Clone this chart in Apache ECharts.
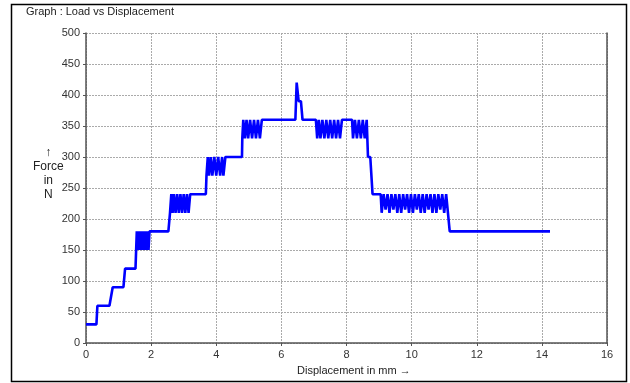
<!DOCTYPE html>
<html>
<head>
<meta charset="utf-8">
<style>
html,body{margin:0;padding:0;background:#fff;}
#chart{width:630px;height:383px;}
</style>
<script src="https://cdn.jsdelivr.net/npm/echarts@6/dist/echarts.min.js"></script>
</head>
<body>
<div id="chart"></div>
<script>
// Data
var titleText = "Graph : Load vs Displacement";
var xAxisLabel = "Displacement in mm \u2192";
var yAxisLabel = "\u2191\nForce\nin\nN";
var xTicks = [0, 2, 4, 6, 8, 10, 12, 14, 16];
var yTicks = [0, 50, 100, 150, 200, 250, 300, 350, 400, 450, 500];

var displacement = [
  0, 0.32, 0.35, 0.72, 0.82, 1.15, 1.2, 1.52,
  1.56, 1.6, 1.64, 1.68, 1.72, 1.76, 1.8, 1.84, 1.88, 1.92, 1.95, 2.53,
  2.58, 2.62, 2.66, 2.7, 2.75, 2.8, 2.85, 2.9, 2.95, 3.0, 3.05, 3.1, 3.15, 3.2, 3.68,
  3.7, 3.74, 3.78, 3.83, 3.88, 3.94, 4.0, 4.06, 4.12, 4.18, 4.22, 4.28, 4.79,
  4.8, 4.83, 4.88, 4.93, 4.98, 5.04, 5.1, 5.16, 5.22, 5.28, 5.34, 5.4, 5.45,
  6.43, 6.47, 6.53, 6.6, 6.65, 7.06,
  7.1, 7.15, 7.2, 7.26, 7.32, 7.38, 7.44, 7.5, 7.56, 7.62, 7.68, 7.74, 7.8, 7.86, 8.17,
  8.2, 8.26, 8.32, 8.38, 8.44, 8.5, 8.56, 8.62, 8.66, 8.73, 8.8, 9.05,
  9.08, 9.14, 9.2, 9.26, 9.32, 9.38, 9.44, 9.5, 9.56, 9.62, 9.68, 9.74, 9.8, 9.86, 9.92, 9.98,
  10.04, 10.1, 10.16, 10.22, 10.28, 10.34, 10.4, 10.46, 10.52, 10.58, 10.64, 10.7, 10.76, 10.82,
  10.88, 10.94, 11.0, 11.06, 11.17, 14.25
];
var force = [
  30, 30, 60, 60, 90, 90, 120, 120,
  180, 150, 180, 150, 180, 150, 180, 150, 180, 150, 180, 180,
  210, 240, 210, 240, 210, 240, 210, 240, 210, 240, 210, 240, 210, 240, 240,
  270, 300, 270, 300, 270, 300, 270, 300, 270, 300, 270, 300, 300,
  330, 360, 330, 360, 330, 360, 330, 360, 330, 360, 330, 360, 360,
  360, 420, 390, 390, 360, 360,
  330, 360, 330, 360, 330, 360, 330, 360, 330, 360, 330, 360, 330, 360, 360,
  330, 360, 330, 360, 330, 360, 330, 360, 300, 300, 240, 240,
  210, 240, 215, 240, 210, 240, 215, 240, 210, 240, 210, 240, 215, 240, 210, 240,
  210, 240, 215, 240, 210, 240, 210, 240, 215, 240, 210, 240, 210, 240,
  215, 240, 210, 240, 180, 180
];

var seriesData = displacement.map(function (x, i) { return [x, force[i]]; });

var chart = echarts.init(document.getElementById('chart'), null, {renderer: 'canvas'});
var font = 'Liberation Sans, Arial, sans-serif';
var option = {
  animation: false,
  backgroundColor: '#ffffff',
  grid: {left: 86, right: 23, top: 33, bottom: 40, containLabel: false},
  graphic: [
    {type: 'rect', shape: {x: 11.5, y: 4.5, width: 615, height: 377},
     style: {fill: 'none', stroke: '#000', lineWidth: 1.5}, silent: true},
    {type: 'text', left: 26, top: 6,
     style: {text: titleText, font: '11px ' + font, fill: '#222'}},
    {type: 'text', left: 33, top: 146,
     style: {text: yAxisLabel, font: '12px ' + font, fill: '#222', textAlign: 'center', lineHeight: 14}},
    {type: 'text', left: 297, top: 365,
     style: {text: xAxisLabel, font: '11px ' + font, fill: '#222'}}
  ],
  xAxis: {
    type: 'value', min: xTicks[0], max: xTicks[xTicks.length - 1], interval: 2,
    axisLine: {show: true, onZero: false, lineStyle: {color: '#555', width: 1.5}},
    axisTick: {show: true, length: 3, lineStyle: {color: '#555'}},
    axisLabel: {margin: 6, fontSize: 11, fontFamily: font, color: '#333'},
    splitLine: {show: true, lineStyle: {type: [2, 1], color: '#aaa', width: 1}}
  },
  yAxis: [{
    type: 'value', min: yTicks[0], max: yTicks[yTicks.length - 1], interval: 50,
    axisLine: {show: true, lineStyle: {color: '#555', width: 1.5}},
    axisTick: {show: true, length: 3, lineStyle: {color: '#555'}},
    axisLabel: {margin: 6, fontSize: 11, fontFamily: font, color: '#333'},
    splitLine: {show: true, lineStyle: {type: [2, 1], color: '#aaa', width: 1}}
  }, {
    type: 'value', position: 'right', min: 0, max: 500, interval: 50,
    axisLine: {show: true, lineStyle: {color: '#555', width: 1.5}},
    axisTick: {show: false}, axisLabel: {show: false}, splitLine: {show: false}
  }],
  series: [{
    type: 'line', data: seriesData, showSymbol: false, symbol: 'none',
    lineStyle: {color: '#0000ff', width: 2.6, join: 'bevel'},
    z: 5
  }]
};
chart.setOption(option);
</script>
</body>
</html>
